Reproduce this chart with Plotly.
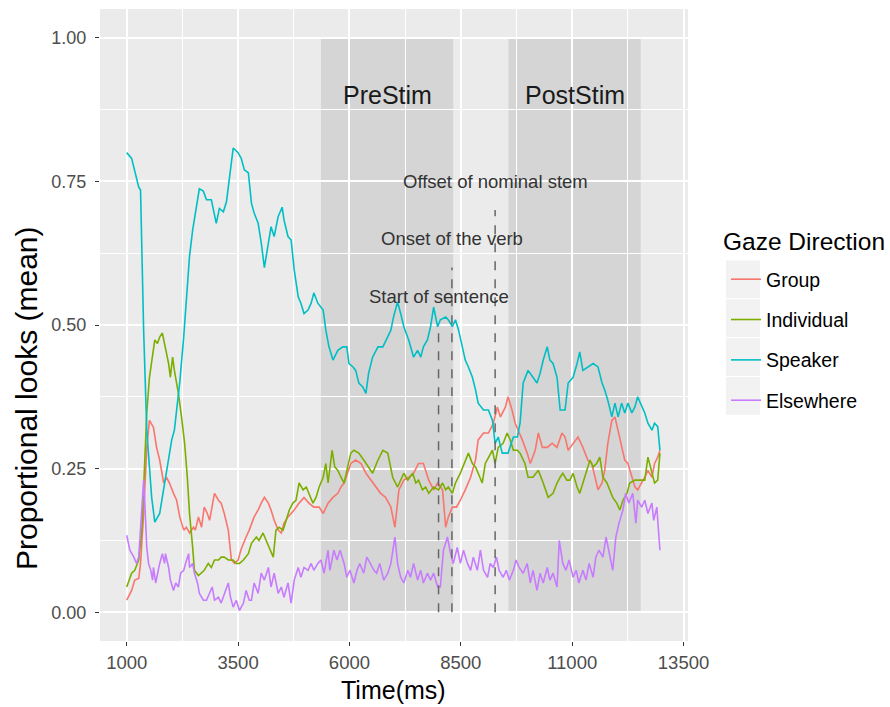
import plotly.graph_objects as go

# ---------------- data (time in ms, proportion of looks) ----------------
GROUP = [(1000,0.021),(1110,0.038),(1180,0.056),(1270,0.059),(1310,0.085),(1380,0.172),(1450,0.287),(1510,0.334),
         (1600,0.322),(1670,0.287),(1740,0.265),(1830,0.225),(1890,0.235),(1960,0.225),(2050,0.207),(2120,0.195),
         (2190,0.166),(2280,0.143),(2340,0.148),(2410,0.138),(2500,0.148),(2540,0.143),(2610,0.166),(2680,0.148),
         (2740,0.183),(2810,0.172),(2860,0.160),(2950,0.195),(2970,0.207),(3060,0.195),(3120,0.19),(3190,0.172),
         (3280,0.143),(3350,0.091),(3420,0.085),(3500,0.091),(3570,0.11),(3680,0.131),(3750,0.143),(3860,0.166),
         (3950,0.178),(4020,0.19),(4090,0.20),(4180,0.19),(4240,0.178),(4310,0.16),(4400,0.143),(4470,0.138),
         (4530,0.155),(4620,0.166),(4690,0.172),(4760,0.178),(4870,0.19),(4980,0.20),(5090,0.19),(5200,0.183),
         (5320,0.183),(5410,0.172),(5520,0.19),(5630,0.20),(5740,0.207),(5810,0.218),(5880,0.225),(5960,0.242),
         (6030,0.259),(6140,0.265),(6260,0.259),(6370,0.242),(6480,0.23),(6590,0.218),(6700,0.207),(6810,0.20),
         (6930,0.183),(7020,0.148),(7110,0.213),(7220,0.23),(7330,0.235),(7440,0.242),(7550,0.259),(7660,0.259),
         (7780,0.23),(7890,0.213),(7980,0.225),(8090,0.213),(8160,0.148),(8220,0.166),(8310,0.183),(8400,0.183),
         (8490,0.195),(8600,0.213),(8720,0.235),(8830,0.265),(8890,0.30),(9010,0.312),(9120,0.312),(9230,0.329),
         (9320,0.357),(9390,0.34),(9500,0.357),(9560,0.375),(9650,0.352),(9720,0.329),(9790,0.317),(9880,0.30),
         (9990,0.277),(10060,0.259),(10170,0.282),(10240,0.312),(10330,0.287),(10440,0.287),(10550,0.294),
         (10660,0.287),(10770,0.312),(10840,0.305),(10910,0.282),(11020,0.294),(11130,0.305),(11240,0.287),
         (11350,0.265),(11440,0.259),(11510,0.235),(11580,0.213),(11670,0.225),(11730,0.247),(11800,0.294),
         (11890,0.334),(11960,0.34),(12030,0.317),(12110,0.287),(12180,0.265),(12250,0.259),(12340,0.235),
         (12410,0.218),(12470,0.213),(12560,0.225),(12630,0.235),(12700,0.247),(12790,0.235),(12850,0.259),
         (12920,0.27),(12970,0.282)]

INDIVIDUAL = [(1000,0.044),(1110,0.068),(1180,0.073),(1270,0.091),(1340,0.143),(1400,0.259),(1450,0.347),(1510,0.409),
              (1600,0.462),(1630,0.474),(1690,0.468),(1740,0.479),(1800,0.486),(1850,0.468),(1940,0.433),(1980,0.409),
              (2030,0.444),(2070,0.421),(2160,0.381),(2230,0.34),(2300,0.294),(2360,0.235),(2410,0.172),(2480,0.113),
              (2520,0.073),(2610,0.064),(2680,0.068),(2740,0.073),(2830,0.085),(2900,0.078),(2970,0.091),(3060,0.091),
              (3120,0.096),(3190,0.096),(3280,0.091),(3390,0.091),(3460,0.085),(3530,0.085),(3620,0.091),(3730,0.102),
              (3800,0.12),(3910,0.131),(3970,0.125),(4060,0.138),(4130,0.125),(4200,0.113),(4290,0.096),(4350,0.143),
              (4420,0.148),(4510,0.143),(4580,0.16),(4650,0.178),(4730,0.19),(4800,0.195),(4870,0.225),(4960,0.213),
              (5030,0.218),(5090,0.207),(5180,0.19),(5250,0.20),(5320,0.218),(5410,0.235),(5470,0.259),(5520,0.225),
              (5610,0.282),(5670,0.253),(5740,0.247),(5810,0.235),(5880,0.225),(5960,0.253),(6030,0.277),(6100,0.282),
              (6210,0.277),(6320,0.265),(6430,0.253),(6520,0.242),(6640,0.265),(6750,0.282),(6860,0.277),(6900,0.259),
              (6970,0.235),(7080,0.218),(7150,0.23),(7220,0.242),(7310,0.23),(7420,0.242),(7490,0.225),(7550,0.23),
              (7640,0.213),(7710,0.218),(7780,0.207),(7890,0.218),(8000,0.213),(8090,0.225),(8160,0.213),(8220,0.218),
              (8310,0.207),(8380,0.225),(8490,0.242),(8600,0.265),(8670,0.277),(8760,0.259),(8830,0.253),(8890,0.242),
              (8980,0.225),(9050,0.259),(9120,0.27),(9210,0.282),(9270,0.259),(9340,0.287),(9450,0.294),(9540,0.312),
              (9610,0.30),(9680,0.282),(9770,0.282),(9830,0.277),(9940,0.259),(10010,0.235),(10120,0.235),(10240,0.247),
              (10350,0.225),(10460,0.20),(10570,0.207),(10660,0.225),(10730,0.235),(10790,0.242),(10880,0.23),
              (10950,0.23),(11020,0.242),(11110,0.218),(11170,0.207),(11240,0.225),(11330,0.247),(11400,0.265),
              (11470,0.253),(11550,0.259),(11620,0.27),(11690,0.235),(11780,0.225),(11850,0.213),(11910,0.20),
              (12000,0.19),(12070,0.178),(12140,0.195),(12230,0.207),(12290,0.225),(12410,0.23),(12520,0.23),
              (12630,0.23),(12700,0.27),(12790,0.242),(12850,0.225),(12920,0.23),(12970,0.277)]

SPEAKER = [(1000,0.80),(1110,0.79),(1270,0.74),(1310,0.735),(1380,0.49),(1450,0.317),(1560,0.20),(1630,0.157),
           (1740,0.172),(1850,0.225),(2010,0.30),(2070,0.317),(2190,0.40),(2280,0.48),(2340,0.55),(2410,0.62),
           (2480,0.665),(2570,0.71),(2630,0.737),(2720,0.733),(2790,0.718),(2900,0.718),(3010,0.677),(3080,0.703),
           (3170,0.697),(3240,0.715),(3300,0.752),(3390,0.808),(3500,0.80),(3570,0.79),(3640,0.77),(3730,0.765),
           (3800,0.712),(3860,0.695),(3950,0.677),(4020,0.643),(4090,0.60),(4180,0.648),(4240,0.671),(4310,0.654),
           (4400,0.689),(4490,0.705),(4530,0.683),(4620,0.654),(4690,0.648),(4760,0.596),(4850,0.549),(4910,0.538),
           (4980,0.52),(5070,0.526),(5140,0.538),(5200,0.556),(5290,0.538),(5410,0.526),(5470,0.491),(5540,0.462),
           (5630,0.439),(5740,0.456),(5850,0.462),(5940,0.462),(5990,0.433),(6080,0.427),(6140,0.421),(6210,0.399),
           (6300,0.392),(6370,0.381),(6430,0.416),(6520,0.444),(6640,0.462),(6750,0.462),(6860,0.479),(6930,0.491),
           (6990,0.514),(7080,0.540),(7150,0.52),(7220,0.497),(7330,0.474),(7440,0.444),(7530,0.456),(7600,0.444),
           (7660,0.462),(7750,0.474),(7820,0.497),(7890,0.531),(7980,0.497),(8040,0.509),(8160,0.514),(8220,0.509),
           (8310,0.497),(8380,0.509),(8450,0.491),(8540,0.462),(8600,0.439),(8670,0.427),(8760,0.409),(8830,0.387),
           (8890,0.364),(9010,0.352),(9120,0.352),(9210,0.334),(9270,0.294),(9340,0.305),(9430,0.277),(9560,0.277),
           (9680,0.305),(9770,0.305),(9830,0.329),(9900,0.399),(10010,0.421),(10120,0.409),(10210,0.399),
           (10280,0.416),(10350,0.439),(10440,0.462),(10500,0.439),(10570,0.433),(10660,0.409),(10730,0.352),
           (10840,0.352),(10910,0.399),(11020,0.409),(11110,0.433),(11170,0.453),(11240,0.421),(11350,0.427),
           (11470,0.433),(11580,0.427),(11670,0.399),(11730,0.387),(11800,0.369),(11890,0.34),(11960,0.364),
           (12030,0.34),(12110,0.364),(12180,0.347),(12250,0.364),(12340,0.347),(12410,0.358),(12470,0.375),
           (12560,0.358),(12630,0.347),(12700,0.329),(12790,0.317),(12850,0.329),(12920,0.323),(12970,0.282)]

ELSEWHERE = [(1000,0.134),(1070,0.108),(1160,0.096),(1220,0.085),(1270,0.096),(1340,0.172),(1380,0.23),(1400,0.20),
             (1450,0.113),(1490,0.085),(1540,0.073),(1580,0.056),(1600,0.078),(1650,0.051),(1690,0.068),(1740,0.085),
             (1800,0.102),(1850,0.085),(1870,0.102),(1940,0.078),(1980,0.056),(2050,0.038),(2100,0.051),(2160,0.044),
             (2210,0.068),(2280,0.073),(2320,0.085),(2390,0.102),(2410,0.078),(2480,0.085),(2520,0.068),(2590,0.051),
             (2630,0.033),(2720,0.021),(2790,0.021),(2860,0.033),(2920,0.044),(2970,0.021),(3060,0.026),(3120,0.016),
             (3190,0.033),(3280,0.051),(3330,0.026),(3390,0.009),(3460,0.021),(3530,0.003),(3620,0.016),(3680,0.038),
             (3750,0.021),(3800,0.021),(3860,0.051),(3950,0.033),(4020,0.068),(4090,0.056),(4180,0.078),(4240,0.044),
             (4310,0.068),(4400,0.033),(4470,0.044),(4530,0.026),(4620,0.051),(4690,0.016),(4760,0.056),(4850,0.078),
             (4910,0.061),(4980,0.078),(5070,0.073),(5140,0.085),(5200,0.073),(5290,0.085),(5360,0.091),(5430,0.068),
             (5520,0.108),(5560,0.073),(5650,0.108),(5720,0.091),(5790,0.108),(5880,0.085),(5940,0.061),(6010,0.073),
             (6100,0.051),(6170,0.073),(6230,0.085),(6320,0.068),(6390,0.096),(6460,0.085),(6550,0.073),(6610,0.068),
             (6680,0.085),(6770,0.056),(6860,0.068),(6930,0.085),(7020,0.131),(7080,0.085),(7150,0.061),(7220,0.051),
             (7310,0.073),(7370,0.061),(7440,0.085),(7530,0.056),(7600,0.073),(7660,0.051),(7750,0.068),(7820,0.056),
             (7890,0.068),(7980,0.044),(8040,0.044),(8110,0.108),(8200,0.131),(8270,0.102),(8330,0.085),(8420,0.113),
             (8490,0.085),(8560,0.108),(8650,0.085),(8720,0.073),(8780,0.096),(8870,0.073),(8940,0.108),(9010,0.073),
             (9100,0.061),(9160,0.085),(9230,0.078),(9300,0.096),(9360,0.073),(9450,0.061),(9520,0.073),(9590,0.056),
             (9680,0.073),(9740,0.091),(9810,0.078),(9900,0.068),(9990,0.085),(10060,0.051),(10120,0.073),
             (10210,0.038),(10280,0.068),(10350,0.051),(10440,0.078),(10500,0.056),(10570,0.068),(10660,0.044),
             (10710,0.125),(10790,0.085),(10860,0.073),(10930,0.091),(11020,0.061),(11090,0.073),(11150,0.051),
             (11240,0.073),(11310,0.056),(11380,0.085),(11470,0.061),(11530,0.096),(11600,0.108),(11690,0.096),
             (11760,0.131),(11820,0.108),(11910,0.073),(11980,0.131),(12050,0.155),(12140,0.178),(12200,0.207),
             (12270,0.19),(12360,0.207),(12430,0.155),(12470,0.195),(12560,0.183),(12630,0.195),(12700,0.172),
             (12790,0.19),(12830,0.16),(12900,0.183),(12970,0.108)]

SERIES_NAMES = ["Group", "Individual", "Speaker", "Elsewhere"]
SERIES_DATA = [GROUP, INDIVIDUAL, SPEAKER, ELSEWHERE]
SERIES_COLORS = ["#F8766D", "#7CAE00", "#00BFC4", "#C77CFF"]

# shaded windows (start, end, label)
WINDOWS = [(5360, 8330, "PreStim"), (9570, 12540, "PostStim")]
WINDOW_LABEL_Y = 0.9
# event markers (time, line top, label, label y)
EVENTS = [(8000, 0.50, "Start of sentence", 0.55),
          (8300, 0.60, "Onset of the verb", 0.65),
          (9270, 0.70, "Offset of nominal stem", 0.75)]

X_TICKS = [1000, 3500, 6000, 8500, 11000, 13500]
Y_TICKS = [0.0, 0.25, 0.5, 0.75, 1.0]
Y_TICK_TEXT = ["0.00", "0.25", "0.50", "0.75", "1.00"]

FONT = "Liberation Sans, Arial, sans-serif"

fig = go.Figure()

for name, data, color in zip(SERIES_NAMES, SERIES_DATA, SERIES_COLORS):
    t, v = zip(*data)
    fig.add_trace(go.Scatter(x=list(t), y=list(v), mode="lines", name=name,
                             legendgroup=name, line=dict(color=color, width=1.6)))

# page-pixel helpers
L, R, T, B = 100, 202, 9, 66
PW, PH = 890 - L - R, 707 - T - B
def px(xp):
    return (xp - L) / PW
def py(yp):
    return (707 - B - yp) / PH

shapes = []
annotations = []
for x0, x1, label in WINDOWS:
    shapes.append(dict(type="rect", xref="x", yref="y", x0=x0, x1=x1, y0=0, y1=1,
                       fillcolor="rgba(0,0,0,0.09)", line=dict(width=0), layer="below"))
    annotations.append(dict(x=(x0 + x1) / 2, y=WINDOW_LABEL_Y, xref="x", yref="y", text=label,
                            showarrow=False, font=dict(family=FONT, size=25, color="#1a1a1a")))
for x, top, label, ly in EVENTS:
    shapes.append(dict(type="line", xref="x", yref="y", x0=x, x1=x, y0=0, y1=top,
                       line=dict(color="#666666", width=1.5, dash="dash")))
    annotations.append(dict(x=x, y=ly, xref="x", yref="y", text=label, showarrow=False,
                            font=dict(family=FONT, size=18.5, color="#333333")))

# legend key backgrounds
key_top, key_h = 260, 38.8
for i in range(4):
    shapes.append(dict(type="rect", xref="paper", yref="paper",
                       x0=px(726), x1=px(760), y0=py(key_top + (i + 1) * key_h - 0.5), y1=py(key_top + i * key_h + 0.5),
                       fillcolor="#F2F2F2", line=dict(width=0), layer="below"))

# legend title and axis titles as positioned text
annotations.append(dict(x=px(721), y=py(242), xref="paper", yref="paper", xanchor="left", yanchor="middle",
                        text="Gaze Direction", showarrow=False, font=dict(family=FONT, size=24.5, color="black")))
annotations.append(dict(x=px(27), y=py(398), xref="paper", yref="paper", xanchor="center", yanchor="middle",
                        text="Proportional looks (mean)", textangle=-90, showarrow=False,
                        font=dict(family=FONT, size=30, color="black")))
annotations.append(dict(x=px(393), y=py(690), xref="paper", yref="paper", xanchor="center", yanchor="middle",
                        text="Time(ms)", showarrow=False, font=dict(family=FONT, size=25, color="black")))

fig.update_layout(
    width=890, height=707,
    margin=dict(l=L, r=R, t=T, b=B),
    paper_bgcolor="white", plot_bgcolor="#EBEBEB",
    font=dict(family=FONT, color="#4D4D4D"),
    shapes=shapes, annotations=annotations,
    showlegend=True,
    legend=dict(x=px(726), y=py(260), xanchor="left", yanchor="top",
                font=dict(family=FONT, size=19.5, color="black"),
                tracegroupgap=12, itemwidth=30, bgcolor="rgba(0,0,0,0)"),
    xaxis=dict(range=[400, 13600], tickmode="array", tickvals=X_TICKS,
               ticktext=[str(v) for v in X_TICKS], ticks="outside", ticklen=4, tickcolor="#333333",
               ticklabelstandoff=1,
               tickfont=dict(family=FONT, size=18.5, color="#4D4D4D"),
               showgrid=True, gridcolor="white", gridwidth=1.6, zeroline=False, showline=False,
               minor=dict(dtick=1250, tick0=1000, showgrid=True, gridcolor="white", gridwidth=0.7)),
    yaxis=dict(range=[-0.05, 1.05], tickmode="array", tickvals=Y_TICKS, ticktext=Y_TICK_TEXT,
               ticks="outside", ticklen=4, tickcolor="#333333", ticklabelstandoff=5,
               tickfont=dict(family=FONT, size=18, color="#4D4D4D"),
               showgrid=True, gridcolor="white", gridwidth=1.6, zeroline=False, showline=False,
               minor=dict(dtick=0.125, tick0=0, showgrid=True, gridcolor="white", gridwidth=0.7)),
)

fig.write_html("out.html", config={"displayModeBar": False},
               post_script="document.body.style.margin='0';")
